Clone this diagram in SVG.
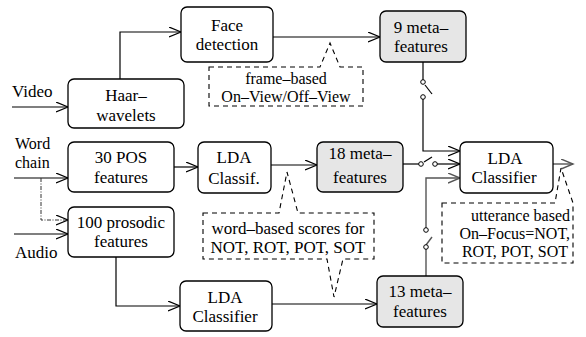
<svg xmlns="http://www.w3.org/2000/svg" width="586" height="337" viewBox="0 0 586 337">
<style>
text{font-family:"Liberation Serif","Times New Roman",serif;font-size:17px;fill:#000}
.s{font-size:16px}
.c{text-anchor:middle}
.e{text-anchor:end}
.box{fill:#fff;stroke:#000;stroke-width:1.3}
.meta{fill:#e6e6e6;stroke:#000;stroke-width:1.3}
.ln{fill:none;stroke:#000;stroke-width:1.2}
.gr{fill:none;stroke:#555;stroke-width:1.4}
.dot{fill:none;stroke:#333;stroke-width:1;stroke-dasharray:4 1.5 1 1.5}
.call{fill:#fff;stroke:#000;stroke-width:1.1;stroke-dasharray:5 4}
.sw{fill:#fff;stroke:#000;stroke-width:1}
</style>
<defs>
<marker id="a" markerUnits="userSpaceOnUse" markerWidth="14" markerHeight="12" refX="12" refY="5" orient="auto">
<path d="M0,0 L12,5 L0,10" fill="none" stroke="#000" stroke-width="1.2"/>
</marker>
<marker id="ag" markerUnits="userSpaceOnUse" markerWidth="14" markerHeight="12" refX="12" refY="5" orient="auto">
<path d="M0,0 L12,5 L0,10" fill="none" stroke="#555" stroke-width="1.4"/>
</marker>
</defs>

<g id="connectors">
<path class="ln" d="M12,107 H68" marker-end="url(#a)"/>
<path class="ln" d="M120,79 V32 H181" marker-end="url(#a)"/>
<path class="ln" d="M273,37 H380" marker-end="url(#a)"/>
<path class="ln" d="M14,178 H68" marker-end="url(#a)"/>
<path class="dot" d="M41,178 V220 H68" marker-end="url(#a)"/>
<path class="ln" d="M14,234 H68" marker-end="url(#a)"/>
<path class="ln" d="M174,167 H198" marker-end="url(#a)"/>
<path class="ln" d="M271,165 H317" marker-end="url(#a)"/>
<path class="ln" d="M116,257 V306 H180" marker-end="url(#a)"/>
<path class="ln" d="M272,304 H377" marker-end="url(#a)"/>
<path class="ln" d="M423,62 V80"/>
<path class="ln" d="M425,85 L432,94"/>
<path class="ln" d="M423,99 V151 H460" marker-end="url(#a)"/>
<path class="ln" d="M403,164 H419"/>
<path class="ln" d="M424,162 L432,157"/>
<path class="ln" d="M437,164 H460" marker-end="url(#a)"/>
<path class="gr" d="M426,276 V249"/>
<path class="gr" d="M426,245 L432,237"/>
<path class="gr" d="M426,228 V178 H460" marker-end="url(#ag)"/>
<path class="gr" d="M553,164 H573" marker-end="url(#ag)"/>
<circle class="sw" cx="423" cy="82" r="2.3"/>
<circle class="sw" cx="423" cy="97" r="2.3"/>
<circle class="sw" cx="421" cy="164" r="2.3"/>
<circle class="sw" cx="435" cy="164" r="2.3"/>
<circle class="sw" cx="426" cy="230" r="2.3"/>
<circle class="sw" cx="426" cy="247" r="2.3"/>
</g>

<g id="face">
<rect class="box" x="181" y="7" width="92" height="55" rx="6"/>
<text class="c" x="227" y="31">Face</text>
<text class="c" x="227" y="50">detection</text>
</g>
<g id="haar">
<rect class="box" x="68" y="79" width="116" height="49" rx="6"/>
<text class="c" x="126" y="101">Haar–</text>
<text class="c" x="126" y="121">wavelets</text>
</g>
<g id="meta9">
<rect class="meta" x="380" y="11" width="86" height="51" rx="6"/>
<text class="c" x="421" y="33">9 meta–</text>
<text class="c" x="421" y="52">features</text>
</g>
<g id="pos">
<rect class="box" x="68" y="142" width="106" height="50" rx="6"/>
<text class="c" x="121" y="163">30 POS</text>
<text class="c" x="121" y="183">features</text>
</g>
<g id="ldaclassif">
<rect class="box" x="198" y="142" width="73" height="51" rx="6"/>
<text class="c" x="234" y="163">LDA</text>
<text class="c" x="234" y="184">Classif.</text>
</g>
<g id="meta18">
<rect class="meta" x="317" y="142" width="86" height="50" rx="6"/>
<text class="c" x="360" y="159">18 meta–</text>
<text class="c" x="360" y="183">features</text>
</g>
<g id="ldafinal">
<rect class="box" x="460" y="142" width="93" height="51" rx="6"/>
<text class="c" x="505" y="164">LDA</text>
<text class="c" x="504" y="183">Classifier</text>
</g>
<g id="prosodic">
<rect class="box" x="68" y="207" width="106" height="50" rx="6"/>
<text class="c" x="121" y="228">100 prosodic</text>
<text class="c" x="121" y="247">features</text>
</g>
<g id="ldabottom">
<rect class="box" x="180" y="281" width="92" height="50" rx="6"/>
<text class="c" x="225" y="303">LDA</text>
<text class="c" x="225" y="322">Classifier</text>
</g>
<g id="meta13">
<rect class="meta" x="377" y="276" width="86" height="51" rx="6"/>
<text class="c" x="420" y="297">13 meta–</text>
<text class="c" x="420" y="317">features</text>
</g>

<g id="labels">
<text x="12" y="97">Video</text>
<text class="s" x="15" y="149">Word</text>
<text class="s" x="15" y="168">chain</text>
<text x="15" y="258">Audio</text>
</g>

<g id="callout-frame">
<path class="call" d="M209,67 H320 L330,43 L340,67 H363 V106 H209 Z"/>
<text class="c s" x="286" y="84">frame–based</text>
<text class="c s" x="286" y="102">On–View/Off–View</text>
</g>
<g id="callout-word">
<path class="call" d="M203,213 H279 L287,172 L298,213 H374 V259 H343 L334,297 L327,259 H203 Z"/>
<text class="c" x="288" y="234">word–based scores for</text>
<text class="c" x="288" y="253">NOT, ROT, POT, SOT</text>
</g>
<g id="callout-utt">
<path class="call" d="M442,203 H555 L561,168 L573,203 V263 H442 Z"/>
<text class="e s" x="570" y="221">utterance based</text>
<text class="e s" x="570" y="239">On–Focus=NOT,</text>
<text class="e s" x="568" y="257">ROT, POT, SOT</text>
</g>
</svg>
